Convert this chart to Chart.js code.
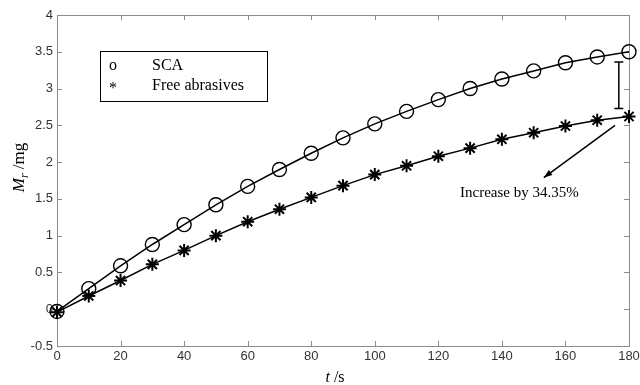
<!DOCTYPE html>
<html>
<head>
<meta charset="utf-8">
<script src="https://cdn.jsdelivr.net/npm/chart.js@4"></script>
<style>
  html, body { margin: 0; padding: 0; background: #fff; }
  canvas { display: block; }
</style>
</head>
<body>
<canvas id="myChart" width="640" height="385"></canvas>
<script>
// time axis (s)
var time_axis = [0, 10, 20, 30, 40, 50, 60, 70, 80, 90, 100, 110, 120, 130, 140, 150, 160, 170, 180];
// removal mass M_r (mg)
var sca = [-0.03, 0.28, 0.59, 0.88, 1.15, 1.42, 1.67, 1.90, 2.12, 2.33, 2.52, 2.69, 2.85, 3.00, 3.13, 3.24, 3.35, 3.43, 3.50];
var freeAbr = [-0.04, 0.18, 0.39, 0.61, 0.80, 1.00, 1.19, 1.36, 1.52, 1.68, 1.83, 1.95, 2.08, 2.19, 2.31, 2.40, 2.49, 2.57, 2.62];
var legendLabels = ['SCA', 'Free abrasives'];
var legendSymbols = ['o', '*'];
var note = 'Increase by 34.35%';

function toPoints(ys) {
    var pts = [];
    for (var i = 0; i < time_axis.length; i++) {
        pts.push({x: time_axis[i], y: ys[i]});
    }
    return pts;
}

var serif = '"Liberation Serif", "Times New Roman", serif';
var sans = '"Liberation Sans", Arial, sans-serif';

var frame = {
    id: 'frame',
    beforeDatasetsDraw: function (chart) {
        var c = chart.ctx, a = chart.chartArea;
        var xs = chart.scales.x, ys = chart.scales.y;
        c.save();
        c.strokeStyle = '#8c8c8c';
        c.lineWidth = 1;
        c.strokeRect(Math.round(a.left) + 0.5, Math.round(a.top) + 0.5, Math.round(a.right - a.left), Math.round(a.bottom - a.top));
        c.beginPath();
        xs.ticks.forEach(function (t) {
            var px = Math.round(xs.getPixelForValue(t.value)) + 0.5;
            c.moveTo(px, a.bottom); c.lineTo(px, a.bottom - 5);
            c.moveTo(px, a.top); c.lineTo(px, a.top + 5);
        });
        ys.ticks.forEach(function (t) {
            var py = Math.round(ys.getPixelForValue(t.value)) + 0.5;
            c.moveTo(a.left, py); c.lineTo(a.left + 5, py);
            c.moveTo(a.right, py); c.lineTo(a.right - 5, py);
        });
        c.stroke();

        // legend box
        var lx = a.left + 43, ly = a.top + 36;
        c.fillStyle = '#fff';
        c.fillRect(lx, ly, 167, 50);
        c.strokeStyle = '#000';
        c.strokeRect(lx + 0.5, ly + 0.5, 167, 50);
        c.fillStyle = '#000';
        c.font = '16px ' + serif;
        c.textBaseline = 'middle';
        c.textAlign = 'left';
        for (var i = 0; i < legendLabels.length; i++) {
            var yy = ly + 15 + i * 20;
            c.fillText(legendSymbols[i], lx + 9, yy + (i === 1 ? 3 : 0));
            c.fillText(legendLabels[i], lx + 52, yy);
        }

        // axis titles
        c.font = 'italic 16px ' + serif;
        c.textAlign = 'left';
        c.textBaseline = 'alphabetic';
        var tw = c.measureText('t').width;
        c.font = '16px ' + serif;
        var sw = c.measureText(' /s').width;
        var cx = (a.left + a.right) / 2 - 8 - (tw + sw) / 2;
        c.font = 'italic 16px ' + serif;
        c.fillText('t', cx, 382);
        c.font = '16px ' + serif;
        c.fillText(' /s', cx + tw, 382);

        c.translate(24, (a.top + a.bottom) / 2 - 13);
        c.rotate(-Math.PI / 2);
        c.font = 'italic 17px ' + serif;
        var mw = c.measureText('M').width;
        c.font = 'italic 12px ' + serif;
        var rw = c.measureText('r').width;
        c.font = '17px ' + serif;
        var gw = c.measureText(' /mg').width;
        var sx = -(mw + rw + gw) / 2;
        c.font = 'italic 17px ' + serif;
        c.fillText('M', sx, 0);
        c.font = 'italic 12px ' + serif;
        c.fillText('r', sx + mw, 4);
        c.font = '17px ' + serif;
        c.fillText(' /mg', sx + mw + rw, 0);
        c.restore();
    },
    afterDatasetsDraw: function (chart) {
        var c = chart.ctx;
        var xs = chart.scales.x, ys = chart.scales.y;
        c.save();
        c.strokeStyle = '#000';
        c.fillStyle = '#000';
        c.lineWidth = 1.5;
        // gap bracket
        var bx = xs.getPixelForValue(176.8);
        var bt = ys.getPixelForValue(3.36), bb = ys.getPixelForValue(2.73);
        c.beginPath();
        c.moveTo(bx, bt); c.lineTo(bx, bb);
        c.moveTo(bx - 4.5, bt); c.lineTo(bx + 4.5, bt);
        c.moveTo(bx - 4.5, bb); c.lineTo(bx + 4.5, bb);
        c.stroke();
        // arrow
        var x1 = xs.getPixelForValue(175.6), y1 = ys.getPixelForValue(2.50);
        var x2 = xs.getPixelForValue(153.2), y2 = ys.getPixelForValue(1.79);
        c.beginPath();
        c.moveTo(x1, y1); c.lineTo(x2, y2);
        c.stroke();
        var ang = Math.atan2(y2 - y1, x2 - x1);
        c.beginPath();
        c.moveTo(x2, y2);
        c.lineTo(x2 - 9 * Math.cos(ang - 0.35), y2 - 9 * Math.sin(ang - 0.35));
        c.lineTo(x2 - 9 * Math.cos(ang + 0.35), y2 - 9 * Math.sin(ang + 0.35));
        c.closePath();
        c.fill();
        // note
        c.font = '15px ' + serif;
        c.textAlign = 'center';
        c.textBaseline = 'middle';
        c.fillText(note, xs.getPixelForValue(145.5), ys.getPixelForValue(1.58));
        c.restore();
    }
};

var ctx = document.getElementById('myChart').getContext('2d');
var myChart = new Chart(ctx, {
    type: 'line',
    data: {
        datasets: [{
            label: legendLabels[0],
            data: toPoints(sca),
            borderColor: '#000',
            borderWidth: 1.5,
            pointStyle: 'circle',
            pointRadius: 7,
            pointBorderWidth: 1.4,
            pointBackgroundColor: 'rgba(0,0,0,0)',
            pointBorderColor: '#000',
            clip: false
        }, {
            label: legendLabels[1],
            data: toPoints(freeAbr),
            borderColor: '#000',
            borderWidth: 1.5,
            pointStyle: 'star',
            pointRadius: 6.5,
            pointBorderWidth: 2,
            pointBorderColor: '#000',
            clip: false
        }]
    },
    options: {
        responsive: false,
        animation: false,
        layout: {padding: {left: 0, right: 11, top: 15, bottom: 0}},
        plugins: {legend: {display: false}, tooltip: {enabled: false}},
        scales: {
            x: {
                type: 'linear',
                min: 0, max: 180,
                grid: {display: false, drawTicks: false},
                border: {display: false},
                ticks: {stepSize: 20, color: '#333', font: {family: sans, size: 13}, padding: 3, maxRotation: 0},
                afterFit: function (s) { s.height = 39; s.paddingRight = 0; s.paddingLeft = 0; }
            },
            y: {
                min: -0.5, max: 4,
                grid: {display: false, drawTicks: false},
                border: {display: false},
                ticks: {stepSize: 0.5, color: '#333', font: {family: sans, size: 13}, padding: 4,
                    callback: function (v) { return String(v); }},
                afterFit: function (s) { s.width = 57; s.paddingTop = 0; s.paddingBottom = 0; }
            }
        }
    },
    plugins: [frame]
});
</script>
</body>
</html>
